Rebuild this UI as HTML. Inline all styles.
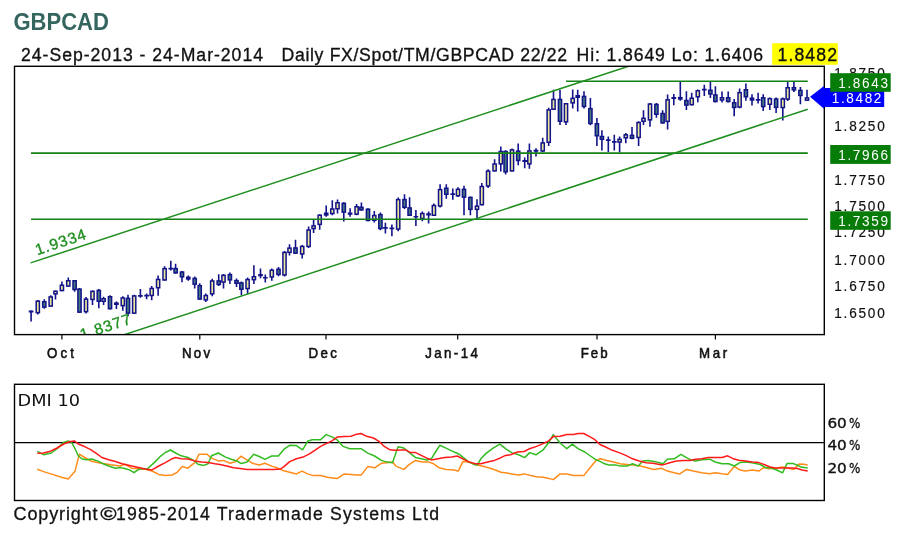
<!DOCTYPE html><html><head><meta charset="utf-8"><title>GBPCAD</title><style>html,body{margin:0;padding:0;background:#fff;width:907px;height:534px;overflow:hidden}svg{display:block}</style></head><body>
<svg width="907" height="534" viewBox="0 0 907 534">
<defs><clipPath id="pc"><rect x="14.5" y="66.3" width="809.8" height="268.3"/></clipPath></defs>
<text x="13.4" y="29.8" font-family="'Liberation Sans', Arial, Helvetica, sans-serif" font-weight="bold" font-size="23" fill="#35655f" textLength="95.5" lengthAdjust="spacingAndGlyphs">GBPCAD</text>
<g font-family="'Liberation Sans', Arial, Helvetica, sans-serif" font-size="19.2" fill="#111" stroke="#111" stroke-width="0.35">
<text transform="scale(0.920,1)" x="22.83" y="60.60" textLength="263.04" lengthAdjust="spacing">24-Sep-2013 - 24-Mar-2014</text>
<text transform="scale(0.920,1)" x="305.98" y="60.60" textLength="310.33" lengthAdjust="spacing">Daily FX/Spot/TM/GBPCAD 22/22</text>
<text transform="scale(0.920,1)" x="626.63" y="60.60" textLength="202.72" lengthAdjust="spacing">Hi: 1.8649 Lo: 1.6406</text>
<rect x="772.2" y="43.2" width="65.6" height="21.6" fill="#ffff00" stroke="none"/>
<text transform="scale(0.920,1)" x="845.11" y="60.60" textLength="64.67" lengthAdjust="spacing">1.8482</text>
</g>
<g font-family="'Liberation Sans', Arial, Helvetica, sans-serif" font-size="14.8" fill="#111" stroke="#111" stroke-width="0.2">
<text transform="scale(0.920,1)" x="906.74" y="78.30" textLength="55.00" lengthAdjust="spacing">1.8750</text>
<text transform="scale(0.920,1)" x="906.74" y="130.90" textLength="55.00" lengthAdjust="spacing">1.8250</text>
<text transform="scale(0.920,1)" x="906.74" y="185.30" textLength="55.00" lengthAdjust="spacing">1.7750</text>
<text transform="scale(0.920,1)" x="906.74" y="210.70" textLength="55.00" lengthAdjust="spacing">1.7500</text>
<text transform="scale(0.920,1)" x="906.74" y="237.10" textLength="55.00" lengthAdjust="spacing">1.7250</text>
<text transform="scale(0.920,1)" x="906.74" y="264.60" textLength="55.00" lengthAdjust="spacing">1.7000</text>
<text transform="scale(0.920,1)" x="906.74" y="291.30" textLength="55.00" lengthAdjust="spacing">1.6750</text>
<text transform="scale(0.920,1)" x="906.74" y="318.20" textLength="55.00" lengthAdjust="spacing">1.6500</text>
</g>
<g clip-path="url(#pc)">
<path d="M31.1 310.5V321.5M37.8 299.9V314.4M44.3 299.2V308.8M50.7 295.2V306.8M55.5 290.4V299.6M61.9 281.5V291.3M68.3 277.4V286.8M74.6 280.0V291.8M79.5 288.0V312.9M86.0 297.0V313.4M92.5 290.6V305.0M98.8 289.0V308.3M103.6 296.8V305.0M110.0 295.2V309.4M116.4 301.4V309.1M122.8 296.3V310.7M128.0 294.7V316.3M134.2 294.7V313.9M140.4 289.0V297.7M146.6 293.6V299.3M151.7 285.9V300.3M158.1 275.6V295.7M164.6 266.3V280.7M170.8 260.7V270.4M175.6 263.8V273.8M182.0 271.0V282.3M188.3 275.6V280.7M194.7 276.6V288.5M199.7 283.3V299.8M205.8 293.4V302.0M212.2 278.7V296.2M218.7 274.2V285.9M223.5 274.0V288.5M229.9 272.4V284.0M236.5 278.4V287.0M241.4 281.5V295.3M247.6 277.6V294.1M253.9 265.3V284.0M260.5 268.5V278.3M265.3 274.6V282.4M271.8 268.5V280.8M278.5 266.9V276.2M284.5 250.9V276.4M289.5 244.2V255.4M295.5 239.7V253.9M302.2 244.9V258.4M308.6 226.5V247.9M313.6 220.0V233.1M319.7 214.3V229.8M326.2 205.4V216.7M332.3 200.3V215.3M337.5 199.4V213.4M343.8 202.2V221.4M350.1 208.3V216.7M356.6 204.0V215.3M361.4 202.4V210.8M368.0 208.3V221.2M374.3 211.1V222.6M380.4 212.5V230.3M385.4 222.8V233.5M391.9 224.6V236.3M398.2 197.5V231.2M404.5 194.3V209.0M409.6 197.3V216.0M415.9 210.0V225.9M422.3 211.4V221.2M428.6 211.4V223.5M433.9 203.4V216.0M440.1 184.2V207.6M446.3 184.2V198.7M452.8 188.6V199.8M458.0 187.2V197.0M464.0 185.8V215.3M470.4 196.5V215.3M477.0 199.3V218.5M481.8 183.0V205.4M488.1 169.3V187.9M494.6 159.2V171.6M500.8 146.4V171.6M505.6 150.2V174.6M512.0 148.5V171.6M518.2 143.4V165.3M524.7 157.5V168.2M529.4 143.4V168.7M536.0 148.2V156.5M542.7 137.7V152.0M548.7 107.7V146.0M553.5 89.7V110.0M560.0 89.7V125.0M566.0 103.0V125.0M572.7 89.5V108.6M577.7 89.7V111.5M584.0 91.2V108.4M590.4 98.0V125.3M596.9 118.0V146.1M601.9 130.3V150.6M608.3 136.5V152.2M614.3 134.8V150.6M619.6 136.5V152.2M625.8 133.1V143.3M632.0 127.1V139.3M638.6 121.3V146.1M643.5 110.3V125.0M650.0 103.0V126.7M656.4 103.0V117.8M662.6 110.3V123.8M667.6 94.6V129.4M673.8 94.0V105.3M680.3 81.1V100.8M686.4 91.3V110.0M691.7 92.8V105.4M697.8 89.5V102.2M704.3 84.8V96.1M710.4 81.6V97.9M715.4 86.2V102.6M722.0 91.4V102.6M728.2 91.4V102.6M734.2 98.9V116.2M739.6 88.6V108.2M745.9 83.4V100.7M752.0 94.2V105.4M758.1 92.8V103.6M763.2 94.2V111.0M769.8 97.5V110.1M776.1 97.5V113.0M782.8 97.5V120.6M787.7 81.8V100.9M793.9 81.7V92.0M800.4 86.9V104.2M807.0 89.7V100.9" stroke="#12128a" stroke-width="1.6" fill="none"/>
<g stroke="#12128a" stroke-width="1.5"><rect x="36.20" y="301.15" width="3.2" height="11.50" fill="#ebe89a"/><rect x="42.70" y="301.75" width="3.2" height="5.30" fill="#457a7a"/><rect x="49.10" y="296.95" width="3.2" height="9.10" fill="#ebe89a"/><rect x="53.90" y="291.25" width="3.2" height="2.60" fill="#ebe89a"/><rect x="60.30" y="285.25" width="3.2" height="5.30" fill="#ebe89a"/><rect x="66.70" y="280.75" width="3.2" height="5.30" fill="#ebe89a"/><rect x="73.00" y="280.75" width="3.2" height="8.70" fill="#457a7a"/><rect x="77.90" y="289.15" width="3.2" height="23.00" fill="#457a7a"/><rect x="84.40" y="299.15" width="3.2" height="12.50" fill="#ebe89a"/><rect x="90.90" y="291.35" width="3.2" height="8.10" fill="#ebe89a"/><rect x="97.20" y="290.45" width="3.2" height="10.80" fill="#457a7a"/><rect x="102.00" y="298.75" width="3.2" height="2.50" fill="#ebe89a"/><rect x="108.40" y="296.75" width="3.2" height="11.90" fill="#457a7a"/><rect x="114.80" y="303.15" width="3.2" height="1.10" fill="#12128a"/><rect x="121.20" y="297.95" width="3.2" height="7.70" fill="#ebe89a"/><rect x="126.40" y="298.35" width="3.2" height="14.80" fill="#457a7a"/><rect x="132.60" y="295.95" width="3.2" height="17.20" fill="#ebe89a"/><rect x="150.10" y="288.45" width="3.2" height="7.00" fill="#ebe89a"/><rect x="156.50" y="279.45" width="3.2" height="8.30" fill="#ebe89a"/><rect x="163.00" y="268.65" width="3.2" height="11.30" fill="#ebe89a"/><rect x="174.00" y="268.55" width="3.2" height="4.30" fill="#457a7a"/><rect x="180.40" y="272.05" width="3.2" height="4.80" fill="#457a7a"/><rect x="186.70" y="277.35" width="3.2" height="1.60" fill="#12128a"/><rect x="193.10" y="278.45" width="3.2" height="5.70" fill="#457a7a"/><rect x="198.10" y="285.65" width="3.2" height="13.40" fill="#457a7a"/><rect x="204.20" y="295.55" width="3.2" height="4.30" fill="#ebe89a"/><rect x="210.60" y="280.95" width="3.2" height="12.90" fill="#ebe89a"/><rect x="217.10" y="280.95" width="3.2" height="3.50" fill="#457a7a"/><rect x="221.90" y="275.35" width="3.2" height="6.70" fill="#ebe89a"/><rect x="228.30" y="274.65" width="3.2" height="5.20" fill="#457a7a"/><rect x="234.90" y="280.65" width="3.2" height="2.60" fill="#457a7a"/><rect x="239.80" y="282.95" width="3.2" height="6.30" fill="#457a7a"/><rect x="246.00" y="279.55" width="3.2" height="9.00" fill="#ebe89a"/><rect x="252.30" y="276.75" width="3.2" height="2.90" fill="#ebe89a"/><rect x="270.20" y="270.25" width="3.2" height="6.70" fill="#ebe89a"/><rect x="276.90" y="269.25" width="3.2" height="5.20" fill="#457a7a"/><rect x="282.90" y="252.45" width="3.2" height="22.50" fill="#ebe89a"/><rect x="287.90" y="248.15" width="3.2" height="4.20" fill="#ebe89a"/><rect x="293.90" y="247.95" width="3.2" height="5.20" fill="#457a7a"/><rect x="300.60" y="246.45" width="3.2" height="7.50" fill="#ebe89a"/><rect x="307.00" y="230.05" width="3.2" height="16.40" fill="#ebe89a"/><rect x="312.00" y="225.85" width="3.2" height="2.70" fill="#ebe89a"/><rect x="318.10" y="215.25" width="3.2" height="9.10" fill="#ebe89a"/><rect x="324.60" y="213.25" width="3.2" height="1.70" fill="#12128a"/><rect x="330.70" y="209.05" width="3.2" height="4.50" fill="#ebe89a"/><rect x="335.90" y="202.75" width="3.2" height="6.00" fill="#ebe89a"/><rect x="342.20" y="203.35" width="3.2" height="8.80" fill="#457a7a"/><rect x="355.00" y="206.75" width="3.2" height="7.40" fill="#ebe89a"/><rect x="359.80" y="207.35" width="3.2" height="2.50" fill="#457a7a"/><rect x="366.40" y="209.25" width="3.2" height="11.20" fill="#457a7a"/><rect x="372.70" y="215.55" width="3.2" height="4.70" fill="#ebe89a"/><rect x="378.80" y="214.65" width="3.2" height="13.90" fill="#457a7a"/><rect x="396.60" y="199.65" width="3.2" height="29.40" fill="#ebe89a"/><rect x="402.90" y="199.55" width="3.2" height="7.70" fill="#457a7a"/><rect x="408.00" y="207.95" width="3.2" height="7.30" fill="#457a7a"/><rect x="420.70" y="213.55" width="3.2" height="5.00" fill="#ebe89a"/><rect x="432.30" y="205.55" width="3.2" height="9.70" fill="#ebe89a"/><rect x="438.50" y="189.65" width="3.2" height="16.30" fill="#ebe89a"/><rect x="444.70" y="188.25" width="3.2" height="6.00" fill="#457a7a"/><rect x="456.40" y="189.35" width="3.2" height="6.40" fill="#ebe89a"/><rect x="462.40" y="189.35" width="3.2" height="7.80" fill="#457a7a"/><rect x="468.80" y="197.45" width="3.2" height="11.90" fill="#457a7a"/><rect x="475.40" y="206.15" width="3.2" height="3.20" fill="#ebe89a"/><rect x="480.20" y="186.55" width="3.2" height="18.10" fill="#ebe89a"/><rect x="486.50" y="171.15" width="3.2" height="14.80" fill="#ebe89a"/><rect x="493.00" y="164.05" width="3.2" height="6.80" fill="#ebe89a"/><rect x="499.20" y="151.55" width="3.2" height="12.30" fill="#ebe89a"/><rect x="504.00" y="151.55" width="3.2" height="20.30" fill="#457a7a"/><rect x="510.40" y="149.95" width="3.2" height="20.90" fill="#ebe89a"/><rect x="516.60" y="151.15" width="3.2" height="9.30" fill="#457a7a"/><rect x="527.80" y="150.95" width="3.2" height="12.90" fill="#ebe89a"/><rect x="541.10" y="142.95" width="3.2" height="8.00" fill="#ebe89a"/><rect x="547.10" y="109.95" width="3.2" height="32.30" fill="#ebe89a"/><rect x="551.90" y="99.45" width="3.2" height="9.80" fill="#ebe89a"/><rect x="558.40" y="99.45" width="3.2" height="21.80" fill="#457a7a"/><rect x="564.40" y="103.75" width="3.2" height="18.10" fill="#ebe89a"/><rect x="571.10" y="98.35" width="3.2" height="4.50" fill="#ebe89a"/><rect x="576.10" y="95.75" width="3.2" height="1.50" fill="#12128a"/><rect x="582.40" y="96.45" width="3.2" height="10.00" fill="#457a7a"/><rect x="588.80" y="108.65" width="3.2" height="14.80" fill="#457a7a"/><rect x="595.30" y="123.75" width="3.2" height="12.00" fill="#457a7a"/><rect x="600.30" y="136.55" width="3.2" height="2.70" fill="#457a7a"/><rect x="618.00" y="139.35" width="3.2" height="2.70" fill="#ebe89a"/><rect x="624.20" y="134.85" width="3.2" height="2.90" fill="#ebe89a"/><rect x="630.40" y="135.35" width="3.2" height="2.90" fill="#457a7a"/><rect x="637.00" y="122.55" width="3.2" height="14.90" fill="#ebe89a"/><rect x="641.90" y="118.35" width="3.2" height="2.90" fill="#ebe89a"/><rect x="648.40" y="104.05" width="3.2" height="15.80" fill="#ebe89a"/><rect x="654.80" y="104.45" width="3.2" height="9.80" fill="#457a7a"/><rect x="661.00" y="113.55" width="3.2" height="9.30" fill="#457a7a"/><rect x="666.00" y="99.85" width="3.2" height="21.50" fill="#ebe89a"/><rect x="678.70" y="97.65" width="3.2" height="1.30" fill="#12128a"/><rect x="684.80" y="100.55" width="3.2" height="4.50" fill="#457a7a"/><rect x="690.10" y="98.25" width="3.2" height="6.40" fill="#ebe89a"/><rect x="696.20" y="90.75" width="3.2" height="6.00" fill="#ebe89a"/><rect x="708.80" y="90.25" width="3.2" height="3.70" fill="#457a7a"/><rect x="713.80" y="94.95" width="3.2" height="6.50" fill="#457a7a"/><rect x="720.40" y="97.75" width="3.2" height="2.20" fill="#ebe89a"/><rect x="726.60" y="97.75" width="3.2" height="3.70" fill="#457a7a"/><rect x="732.60" y="102.75" width="3.2" height="4.70" fill="#457a7a"/><rect x="738.00" y="92.65" width="3.2" height="14.40" fill="#ebe89a"/><rect x="744.30" y="89.75" width="3.2" height="7.00" fill="#457a7a"/><rect x="750.40" y="98.25" width="3.2" height="1.70" fill="#12128a"/><rect x="761.60" y="97.75" width="3.2" height="8.80" fill="#457a7a"/><rect x="768.20" y="98.65" width="3.2" height="5.60" fill="#ebe89a"/><rect x="774.50" y="99.05" width="3.2" height="8.30" fill="#457a7a"/><rect x="781.20" y="98.95" width="3.2" height="8.60" fill="#ebe89a"/><rect x="786.10" y="87.75" width="3.2" height="11.30" fill="#ebe89a"/><rect x="792.30" y="87.65" width="3.2" height="2.20" fill="#457a7a"/><rect x="798.80" y="90.45" width="3.2" height="5.00" fill="#457a7a"/><rect x="805.40" y="97.95" width="3.2" height="2.20" fill="#ebe89a"/></g>
<path d="M28.75 310.50h4.7v2.00h-4.7zM138.05 295.10h4.7v1.70h-4.7zM144.25 294.85h4.7v1.70h-4.7zM168.45 267.80h4.7v1.70h-4.7zM258.15 274.10h4.7v2.10h-4.7zM262.95 276.90h4.7v1.70h-4.7zM347.75 212.50h4.7v2.30h-4.7zM383.05 227.10h4.7v1.70h-4.7zM389.55 227.50h4.7v1.80h-4.7zM413.55 215.90h4.7v1.70h-4.7zM426.25 213.20h4.7v2.40h-4.7zM450.45 193.30h4.7v1.80h-4.7zM522.35 160.10h4.7v1.90h-4.7zM533.65 149.70h4.7v2.00h-4.7zM605.95 139.30h4.7v1.70h-4.7zM611.95 141.00h4.7v1.70h-4.7zM671.45 96.90h4.7v2.20h-4.7zM701.95 88.85h4.7v1.70h-4.7zM755.75 98.90h4.7v1.80h-4.7z" fill="#12128a"/>
<line x1="566.0" y1="81.2" x2="807.8" y2="81.2" stroke="#148214" stroke-width="1.6"/>
<line x1="31.0" y1="153.1" x2="807.8" y2="153.1" stroke="#148214" stroke-width="1.6"/>
<line x1="31.0" y1="219.3" x2="807.8" y2="219.3" stroke="#148214" stroke-width="1.6"/>
<line x1="30.6" y1="262.89" x2="807.8" y2="7.32" stroke="#1f8f1f" stroke-width="1.5"/>
<line x1="31" y1="365.51" x2="807.8" y2="109.19" stroke="#1f8f1f" stroke-width="1.5"/>
<g font-family="'Liberation Sans', Arial, Helvetica, sans-serif" font-size="15.5" fill="#1f8f1f" stroke="#1f8f1f" stroke-width="0.35">
<text transform="translate(37.2,255.3) rotate(-18.25)" textLength="52.5" lengthAdjust="spacing">1.9334</text>
<text transform="translate(82,340) rotate(-18.25)" textLength="52.5" lengthAdjust="spacing">1.8377</text>
</g>
</g>
<rect x="14.5" y="66.3" width="809.8" height="268.3" fill="none" stroke="#000" stroke-width="1.4"/>
<g font-family="'Liberation Sans', Arial, Helvetica, sans-serif" font-size="14.6" fill="#fff">
<path d="M810 96.8 L824 86 L824 88 L884.2 88 L884.2 107.1 L824 107.1 L824 108.8 Z" fill="#0000ff"/>
<text transform="scale(0.930,1)" x="894.41" y="103.20" textLength="53.33" lengthAdjust="spacing">1.8482</text>
<rect x="830.2" y="73.2" width="60.5" height="18.6" fill="#087c08"/>
<text transform="scale(0.930,1)" x="901.29" y="87.70" textLength="53.55" lengthAdjust="spacing">1.8643</text>
<rect x="830.2" y="145.0" width="60.5" height="18.9" fill="#087c08"/>
<text transform="scale(0.930,1)" x="901.29" y="159.65" textLength="53.55" lengthAdjust="spacing">1.7966</text>
<rect x="830.2" y="211.3" width="60.5" height="18.5" fill="#087c08"/>
<text transform="scale(0.930,1)" x="901.29" y="225.75" textLength="53.55" lengthAdjust="spacing">1.7359</text>
</g>
<g stroke="#000" stroke-width="1.2">
<line x1="61.9" y1="334.6" x2="61.9" y2="339.6"/>
<line x1="199.8" y1="334.6" x2="199.8" y2="339.6"/>
<line x1="326.0" y1="334.6" x2="326.0" y2="339.6"/>
<line x1="457.7" y1="334.6" x2="457.7" y2="339.6"/>
<line x1="597.0" y1="334.6" x2="597.0" y2="339.6"/>
<line x1="715.4" y1="334.6" x2="715.4" y2="339.6"/>
</g>
<g font-family="'Liberation Sans', Arial, Helvetica, sans-serif" font-size="14" fill="#111" stroke="#111" stroke-width="0.55">
<text transform="scale(0.950,1)" x="49.47" y="358.20" textLength="28.42" lengthAdjust="spacing">Oct</text>
<text transform="scale(0.950,1)" x="191.47" y="358.20" textLength="29.68" lengthAdjust="spacing">Nov</text>
<text transform="scale(0.950,1)" x="324.63" y="358.20" textLength="30.11" lengthAdjust="spacing">Dec</text>
<text transform="scale(0.950,1)" x="447.68" y="358.20" textLength="55.26" lengthAdjust="spacing">Jan-14</text>
<text transform="scale(0.950,1)" x="611.26" y="358.20" textLength="28.32" lengthAdjust="spacing">Feb</text>
<text transform="scale(0.950,1)" x="735.89" y="358.20" textLength="29.58" lengthAdjust="spacing">Mar</text>
</g>
<rect x="14.5" y="384.3" width="809.8" height="116.2" fill="none" stroke="#000" stroke-width="1.4"/>
<line x1="14.5" y1="442.6" x2="824.3" y2="442.6" stroke="#000" stroke-width="1.4"/>
<text x="17.5" y="405.8" font-family="'DejaVu Sans', Verdana, sans-serif" font-size="15.5" fill="#111" textLength="62.5" lengthAdjust="spacingAndGlyphs">DMI 10</text>
<polyline points="37.3,469.3 43.5,471.6 52.5,474.4 61.5,477.2 68.2,478.9 74.9,471.6 78.3,458.1 79.4,454.2 83.9,457.0 90.7,460.9 97.4,462.6 104.2,463.7 110.9,464.8 119.9,466.0 125.0,464.3 131.7,468.2 138.5,468.8 145.2,469.3 152.0,471.0 158.7,474.4 165.4,475.5 172.2,475.0 176.7,472.7 182.3,466.5 187.9,468.2 194.7,462.6 199.2,454.2 207.0,454.2 211.5,458.1 218.3,460.9 223.4,460.4 230.1,463.3 235.7,461.6 240.8,456.2 247.0,459.9 252.6,463.3 259.3,465.0 264.9,463.3 271.7,466.1 278.4,468.3 282.9,470.6 289.7,472.2 296.4,473.9 302.0,471.1 307.6,473.9 313.3,475.6 320.6,475.6 327.4,477.3 333.0,477.9 337.5,478.4 344.2,473.9 351.0,474.5 356.6,475.1 361.1,475.1 367.8,466.6 374.6,467.8 381.3,463.3 386.9,462.7 392.5,462.1 395.9,466.1 403.8,469.4 409.4,464.4 415.6,460.4 422.4,462.1 429.1,462.1 433.6,463.8 439.2,467.8 446.0,469.4 452.7,469.7 458.3,471.1 462.8,461.6 468.4,462.1 475.2,464.4 481.9,466.1 488.7,467.8 495.4,470.0 501.0,472.2 505.5,472.8 511.7,473.9 518.5,475.1 524.7,473.9 530.8,475.6 536.5,476.7 543.2,477.3 548.8,478.4 553.3,479.6 560.1,473.9 566.8,473.9 573.5,475.6 583.7,475.6 590.4,467.2 596.0,460.4 600.5,458.8 606.7,460.4 613.5,462.1 620.2,463.8 627.0,464.4 633.7,464.9 640.4,466.1 647.2,467.8 653.9,469.4 661.8,468.3 667.4,471.1 674.2,472.8 679.8,473.9 686.5,469.4 693.3,471.1 701.7,472.7 709.6,473.8 715.2,472.7 722.0,473.8 727.6,474.4 734.3,466.5 739.9,469.9 745.6,471.0 752.3,469.9 759.0,471.0 763.5,467.6 769.2,468.8 776.8,468.1 782.5,467.1 788.1,468.1 793.7,469.5 799.3,463.9 804.0,464.3 807.7,465.1" fill="none" stroke="#ff8c1a" stroke-width="1.5" stroke-linejoin="round"/>
<polyline points="37.3,451.3 43.5,454.7 51.3,453.0 58.0,448.0 63.7,442.4 68.2,440.9 71.6,442.4 74.9,448.5 78.3,455.8 81.7,458.7 86.2,459.8 91.8,459.0 97.4,460.9 103.0,463.7 108.7,466.0 115.4,468.2 121.0,467.6 125.5,468.8 129.5,469.9 134.0,472.7 138.5,469.3 143.0,468.8 147.5,468.8 154.2,462.6 161.0,455.8 165.4,452.5 170.5,450.0 175.6,453.0 181.2,455.8 187.9,457.5 193.5,460.3 198.0,464.3 203.7,465.4 208.1,463.7 211.5,455.8 218.3,453.0 225.6,457.1 231.2,459.3 236.9,461.0 241.3,463.6 247.0,462.1 253.7,454.3 259.3,456.5 264.9,459.3 271.7,456.0 278.4,456.0 284.0,449.2 289.7,445.3 296.4,445.6 302.6,449.8 307.6,441.3 312.1,439.7 320.6,439.7 326.2,434.6 331.9,436.9 337.5,440.2 343.1,446.4 349.8,448.7 355.4,448.7 361.1,448.7 367.8,453.1 374.6,456.0 381.3,460.4 386.9,462.1 392.5,462.7 398.1,446.7 403.8,448.1 409.4,452.6 415.6,457.6 421.2,458.8 426.9,459.9 431.3,458.8 435.8,451.5 439.8,445.3 446.0,448.1 451.6,450.9 458.3,453.7 462.8,457.1 468.4,461.6 474.0,464.4 477.4,464.9 480.8,458.8 486.4,453.1 493.1,448.1 499.9,444.2 505.5,448.7 511.7,452.6 518.5,454.8 524.7,457.6 529.7,452.6 535.9,454.8 543.2,449.8 548.8,442.5 553.3,434.6 560.1,443.0 566.8,448.7 572.4,444.2 578.0,448.7 584.8,452.0 590.4,456.0 596.0,459.9 600.5,461.6 604.5,463.8 609.0,464.9 615.7,464.9 620.2,466.1 627.0,466.1 632.6,463.8 638.2,466.1 642.7,461.0 648.3,460.4 653.9,461.6 659.6,462.7 662.9,463.8 667.4,459.3 674.2,458.8 680.9,454.3 686.5,457.6 691.0,459.9 695.5,461.0 701.7,459.8 709.6,459.2 715.2,462.0 722.0,463.7 728.7,463.7 734.3,466.0 739.9,462.6 746.7,462.0 753.4,463.1 760.2,464.5 765.6,467.6 771.2,468.1 776.8,470.0 782.5,472.8 787.1,463.4 792.8,463.4 797.4,465.3 801.2,467.1 807.7,467.9" fill="none" stroke="#33bb22" stroke-width="1.5" stroke-linejoin="round"/>
<polyline points="37.3,453.3 43.5,453.0 50.2,451.3 57.0,448.0 63.7,444.0 69.3,441.8 74.4,440.9 78.3,444.0 84.0,446.3 90.7,449.7 97.4,454.2 101.9,457.5 108.7,459.8 115.4,461.5 122.1,463.7 131.7,466.0 138.5,467.6 145.2,469.1 152.0,469.9 158.7,466.0 165.4,462.6 172.2,458.7 175.6,457.5 181.2,458.7 187.9,459.0 194.7,460.9 201.4,462.0 208.1,462.4 214.9,463.7 220.0,464.4 226.7,466.1 233.5,467.8 240.2,468.5 247.0,469.4 253.7,469.4 260.4,469.4 267.2,469.4 273.9,469.4 280.7,468.9 284.0,466.6 289.7,461.6 296.4,458.8 303.1,457.1 309.9,453.7 315.5,449.8 320.6,446.4 326.2,443.6 331.9,440.8 337.5,436.9 344.2,436.6 351.0,436.3 355.4,434.6 361.1,433.5 366.7,436.3 373.4,438.0 379.0,441.3 383.5,445.8 389.2,449.4 393.7,450.3 400.4,450.1 406.0,450.1 410.5,452.6 415.6,452.6 421.2,455.4 426.9,458.2 431.3,459.9 438.1,458.8 444.8,457.6 451.6,457.1 457.2,456.0 462.8,458.8 468.4,461.6 475.2,463.8 480.8,463.8 487.5,462.1 494.3,460.4 499.9,458.2 505.5,455.4 510.6,454.8 517.4,452.0 524.1,451.5 529.7,448.7 536.5,446.4 543.2,443.6 548.8,440.8 553.3,436.6 560.1,436.3 566.8,434.6 573.5,434.6 578.0,433.5 583.7,433.5 589.3,436.3 594.9,439.7 600.0,444.5 605.6,447.0 612.4,450.3 619.1,452.6 625.8,455.4 632.6,458.8 639.3,461.0 646.1,462.7 652.8,463.3 659.6,464.4 662.9,464.9 669.7,462.7 676.4,461.0 683.1,460.4 689.9,460.4 695.5,459.3 701.7,458.7 708.5,457.5 715.2,457.5 722.0,457.5 727.6,455.8 733.2,458.7 738.8,460.3 745.6,460.9 752.3,462.0 759.0,462.6 764.7,464.8 769.4,466.7 775.0,468.1 780.6,468.1 786.2,467.9 791.8,467.9 797.4,468.5 802.1,470.0 807.7,470.9" fill="none" stroke="#ff1a1a" stroke-width="1.5" stroke-linejoin="round"/>
<g font-family="'DejaVu Sans', Verdana, sans-serif" font-size="14" fill="#111" stroke="#111" stroke-width="0.35">
<text x="827.4" y="427.9" textLength="19.4" lengthAdjust="spacingAndGlyphs">60</text>
<text x="848.9" y="427.9" font-size="13.2" stroke-width="0.3" textLength="11.4" lengthAdjust="spacingAndGlyphs">%</text>
<text x="827.4" y="450.2" textLength="19.4" lengthAdjust="spacingAndGlyphs">40</text>
<text x="848.9" y="450.2" font-size="13.2" stroke-width="0.3" textLength="11.4" lengthAdjust="spacingAndGlyphs">%</text>
<text x="827.4" y="472.9" textLength="19.4" lengthAdjust="spacingAndGlyphs">20</text>
<text x="848.9" y="472.9" font-size="13.2" stroke-width="0.3" textLength="11.4" lengthAdjust="spacingAndGlyphs">%</text>
</g>
<g font-family="'Liberation Sans', Arial, Helvetica, sans-serif" font-size="19" fill="#111" stroke="#111" stroke-width="0.3">
<text transform="scale(0.950,1)" x="14.32" y="520.00" textLength="88.42" lengthAdjust="spacing">Copyright</text>
<text x="100.2" y="520" font-weight="bold" stroke-width="0.2" textLength="16.4" lengthAdjust="spacingAndGlyphs">&#169;</text>
<text transform="scale(0.930,1)" x="124.73" y="520.00" textLength="347.31" lengthAdjust="spacing">1985-2014 Tradermade Systems Ltd</text>
</g>
</svg></body></html>
